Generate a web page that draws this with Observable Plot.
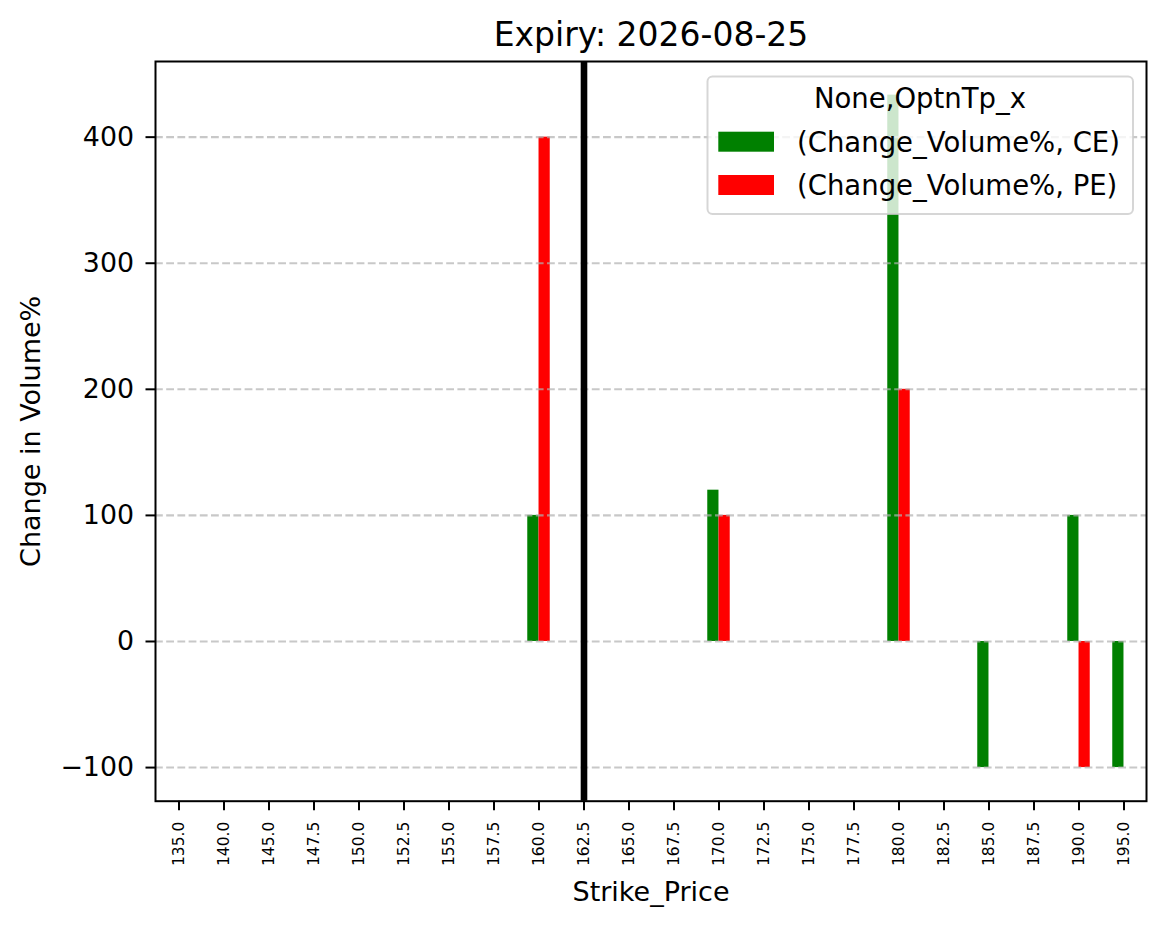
<!DOCTYPE html>
<html>
<head>
<meta charset="utf-8">
<script src="https://cdn.jsdelivr.net/npm/d3@7"></script>
<script src="https://cdn.jsdelivr.net/npm/@observablehq/plot@0.6"></script>
<style>
  html, body { margin: 0; padding: 0; background: #fff; }
  #chart { width: 1166px; height: 928px; }
</style>
</head>
<body>
<div id="chart"></div>
<script>
// ---- data ----
const chartTitle = "Expiry: 2026-08-25";
const xLabel = "Strike_Price";
const yLabel = "Change in Volume%";
const legendTitle = "None,OptnTp_x";
const strikes = ["135.0","140.0","145.0","147.5","150.0","152.5","155.0","157.5","160.0","162.5","165.0","167.5","170.0","172.5","175.0","177.5","180.0","182.5","185.0","187.5","190.0","195.0"];
const ceValues = [null,null,null,null,null,null,null,null,100,null,null,null,120,null,null,null,433.33,null,-100,null,100,-100];
const peValues = [null,null,null,null,null,null,null,null,400,null,null,null,100,null,null,null,200,null,null,null,-100,null];
const spotStrike = "162.5";
const yTicks = [-100, 0, 100, 200, 300, 400];
const yDomain = [-126.67, 460];
const seriesNames = ["(Change_Volume%, CE)", "(Change_Volume%, PE)"];
const seriesColors = ["green", "red"];

// ---- layout ----
const W = 1166, H = 928;
const mL = 155, mR = 20, mT = 61, mB = 127.3;
const step = (W - mL - mR) / strikes.length;
const font = "DejaVu Sans";

const ceData = strikes.map((s, i) => ({strike: s, value: ceValues[i]})).filter(d => d.value != null);
const peData = strikes.map((s, i) => ({strike: s, value: peValues[i]})).filter(d => d.value != null);

const svg = Plot.plot({
  width: W,
  height: H,
  marginLeft: mL,
  marginRight: mR,
  marginTop: mT,
  marginBottom: mB,
  style: {fontFamily: font, color: "black", background: "white", overflow: "visible"},
  x: {type: "band", domain: strikes, padding: 0},
  y: {domain: yDomain},
  marks: [
    Plot.barY(ceData, {x: "strike", y: "value", fill: seriesColors[0], insetLeft: step * 0.25, insetRight: step * 0.5}),
    Plot.barY(peData, {x: "strike", y: "value", fill: seriesColors[1], insetLeft: step * 0.5, insetRight: step * 0.25}),
    Plot.gridY(yTicks, {stroke: "#b0b0b0", strokeOpacity: 0.7, strokeWidth: 2.1, strokeDasharray: "7.8,3.4"}),
    Plot.ruleX([spotStrike], {stroke: "black", strokeWidth: 6.6}),
    Plot.frame({stroke: "black", strokeWidth: 2}),
    Plot.axisX({tickSize: 9.5, tickPadding: 11, tickRotate: -90, fontSize: 15.5, strokeWidth: 2, label: null}),
    Plot.axisY({ticks: yTicks, tickFormat: d3.format("d"), tickSize: 9.5, tickPadding: 12, fontSize: 26.8, strokeWidth: 2, label: null}),
    Plot.text([chartTitle], {frameAnchor: "top", dy: 45 - mT, lineAnchor: "bottom", textAnchor: "middle", fontSize: 33, fill: "black"}),
    Plot.text([xLabel], {frameAnchor: "bottom", dy: 900 - (H - mB), lineAnchor: "bottom", textAnchor: "middle", fontSize: 27, fill: "black"}),
    Plot.text([yLabel], {frameAnchor: "left", dx: 39.5 - mL, rotate: -90, lineAnchor: "bottom", textAnchor: "middle", fontSize: 27, fill: "black"})
  ]
});

// ---- legend (matplotlib-style box, upper right) ----
const lg = d3.select(svg).append("g").attr("font-family", font).attr("font-size", 27.5).attr("fill", "black");
lg.append("rect")
  .attr("x", 707.5).attr("y", 76.5).attr("width", 425.5).attr("height", 137.5)
  .attr("rx", 5).attr("fill", "white").attr("fill-opacity", 0.8)
  .attr("stroke", "#cccccc").attr("stroke-opacity", 0.8).attr("stroke-width", 2);
lg.append("text").attr("x", 920).attr("y", 107.6).attr("text-anchor", "middle").text(legendTitle);
const entries = lg.selectAll("g.entry").data(seriesNames).join("g").attr("class", "entry")
  .attr("transform", (d, i) => `translate(0, ${i * 43.3})`);
entries.append("rect").attr("x", 718.3).attr("y", 131.7).attr("width", 55.7).attr("height", 20)
  .attr("fill", (d, i) => seriesColors[i]);
entries.append("text").attr("x", 797).attr("y", 151.5).attr("text-anchor", "start").text(d => d);

document.getElementById("chart").appendChild(svg);
</script>
</body>
</html>
